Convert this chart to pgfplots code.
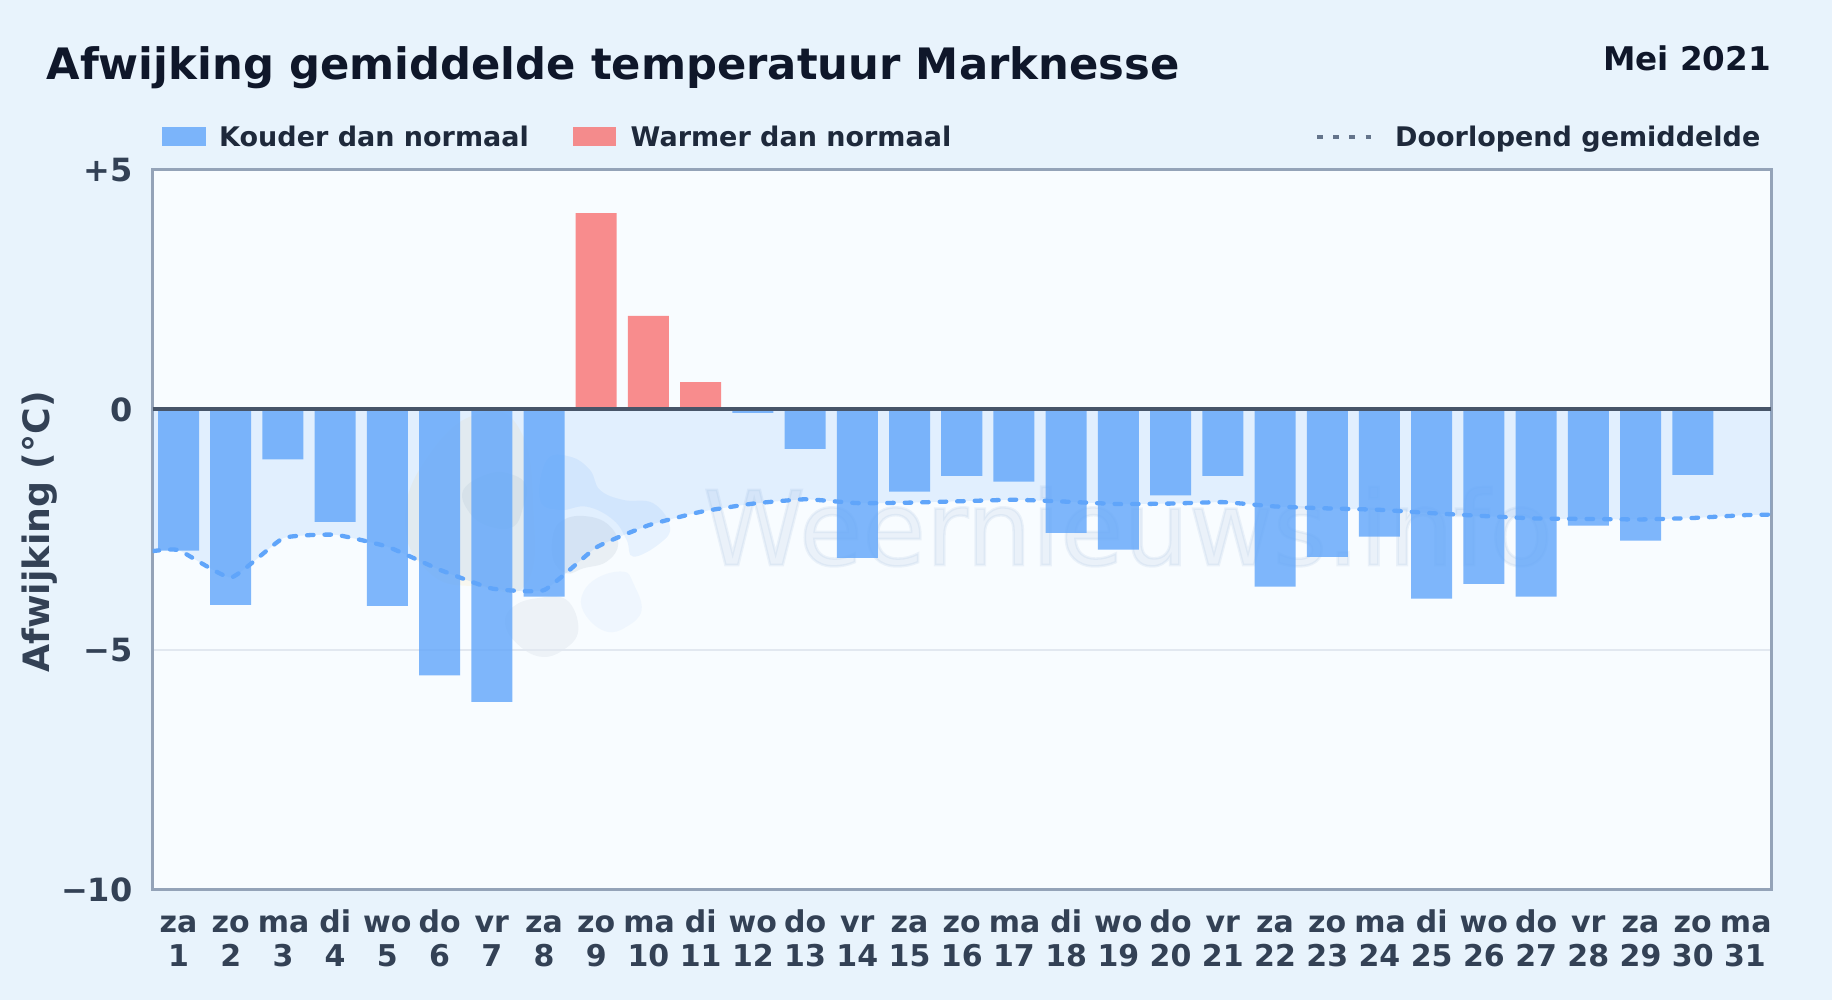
\documentclass[border=0pt]{standalone}
\usepackage{fontspec}
\setmainfont{DejaVu Sans}
\newfontfamily\wmfont[FakeBold=2.5]{DejaVu Sans}
\usepackage{pgfplots}
\pgfplotsset{compat=1.18}
\usepackage{pgfplotstable}
\definecolor{pagebg}{HTML}{E8F3FC}
\definecolor{plotbg}{HTML}{F8FCFF}
\definecolor{cold}{HTML}{60A5FA}
\definecolor{warm}{HTML}{F87171}
\definecolor{titlec}{HTML}{0F172A}
\definecolor{legc}{HTML}{1E293B}
\definecolor{tickc}{HTML}{334155}
\definecolor{borderc}{HTML}{94A3B8}
\definecolor{zeroc}{HTML}{475569}
\definecolor{gridc}{HTML}{E2E8F0}
\definecolor{dotc}{HTML}{64748B}
\definecolor{wmc}{HTML}{7AA0D0}
\definecolor{sunc}{HTML}{FBBF24}
\newcommand\tl[2]{\strut #1\\\strut #2}
\pgfplotstableread{
x y
1 -2.93
2 -4.06
3 -1.03
4 -2.33
5 -4.08
6 -5.53
7 -6.08
8 -3.89
12 -0.06
13 -0.81
14 -3.08
15 -1.70
16 -1.37
17 -1.49
18 -2.56
19 -2.91
20 -1.78
21 -1.37
22 -3.68
23 -3.06
24 -2.64
25 -3.93
26 -3.62
27 -3.89
28 -2.41
29 -2.72
30 -1.35
}\coldtable
\pgfplotstableread{
x y
9 4.10
10 1.96
11 0.58
}\warmtable
\pgfplotstableread{
x y
0.5 -2.94
1 -2.92
2 -3.49
3 -2.67
4 -2.60
5 -2.85
6 -3.33
7 -3.72
8 -3.75
9 -2.86
10 -2.40
11 -2.12
12 -1.95
13 -1.86
14 -1.94
15 -1.93
16 -1.90
17 -1.87
18 -1.91
19 -1.96
20 -1.95
21 -1.92
22 -2.01
23 -2.05
24 -2.08
25 -2.15
26 -2.21
27 -2.26
28 -2.27
29 -2.28
30 -2.25
31 -2.19
31.5 -2.18
}\runtable
\begin{document}
\begin{tikzpicture}[x=1pt,y=1pt]
\useasboundingbox (0,0) rectangle (1832,1000);
\fill[pagebg] (0,0) rectangle (1832,1000);
\fill[plotbg] (152.7,110) rectangle (1771.4,830);
% watermark
\begin{scope}
\clip (152.7,110) rectangle (1771.4,830);
\node[anchor=base west,inner sep=0pt,text=wmc,opacity=0.11] at (703,435) {\fontsize{103}{103}\selectfont\wmfont Weernieuws.info};
\begin{scope}[shift={(380,560)},x=0.3333pt,y=-0.3333pt]
\fill[sunc,opacity=0.07] plot[smooth cycle,tension=0.8] coordinates {(75,240) (150,40) (300,-80) (420,-30) (460,200) (440,430) (300,440) (150,400)};
\fill[cold,opacity=0.11] plot[smooth cycle,tension=0.7] coordinates {(500,60) (570,50) (630,90) (660,150) (730,180) (820,190) (870,260) (840,310) (760,350) (740,300) (700,240) (620,200) (540,210) (480,180)};
\fill[cold,opacity=0.06] plot[smooth cycle,tension=0.7] coordinates {(605,470) (650,415) (730,395) (760,430) (785,510) (740,560) (680,575) (620,530)};
\fill[borderc,opacity=0.14] plot[smooth cycle,tension=0.7] coordinates {(550,240) (610,228) (680,250) (715,310) (680,365) (610,385) (560,400) (520,360) (520,280)};
\fill[borderc,opacity=0.11] plot[smooth cycle,tension=0.7] coordinates {(400,500) (470,475) (560,480) (595,570) (550,630) (480,650) (410,610) (375,550)};
\fill[borderc,opacity=0.13] plot[smooth cycle,tension=0.7] coordinates {(250,150) (330,100) (400,105) (440,140) (430,200) (400,260) (330,260) (270,220)};
\end{scope}
\end{scope}
% titles
\node[anchor=base west,inner sep=0pt,text=titlec] at (46.3,920) {\fontsize{43.3}{44}\selectfont\bfseries Afwijking gemiddelde temperatuur Marknesse};
\node[anchor=base east,inner sep=0pt,text=titlec] at (1771,929) {\fontsize{32.6}{33}\selectfont\bfseries Mei 2021};
% legend
\fill[cold,opacity=0.8] (162,854) rectangle (206,873);
\node[anchor=base west,inner sep=0pt,text=legc] at (219,853.5) {\fontsize{27}{28}\selectfont\bfseries Kouder dan normaal};
\fill[warm,opacity=0.8] (573,854) rectangle (616,873);
\node[anchor=base west,inner sep=0pt,text=legc] at (630.5,853.5) {\fontsize{27}{28}\selectfont\bfseries Warmer dan normaal};
\draw[dotc,line width=4.5pt,dash pattern=on 5.6pt off 10.6pt] (1317,863) -- (1375,863);
\node[anchor=base west,inner sep=0pt,text=legc] at (1395,853.5) {\fontsize{27}{28}\selectfont\bfseries Doorlopend gemiddelde};
\begin{axis}[
  at={(152.7pt,110pt)}, anchor=south west,
  scale only axis, width=1618.7pt, height=720pt,
  xmin=0.5, xmax=31.5, ymin=-10, ymax=5,
  axis line style={borderc,line width=3pt},
  ymajorgrids, grid style={gridc,line width=2pt},
  xtick={1,...,31},
  xticklabels={\tl{za}{1},\tl{zo}{2},\tl{ma}{3},\tl{di}{4},\tl{wo}{5},\tl{do}{6},\tl{vr}{7},\tl{za}{8},\tl{zo}{9},\tl{ma}{10},\tl{di}{11},\tl{wo}{12},\tl{do}{13},\tl{vr}{14},\tl{za}{15},\tl{zo}{16},\tl{ma}{17},\tl{di}{18},\tl{wo}{19},\tl{do}{20},\tl{vr}{21},\tl{za}{22},\tl{zo}{23},\tl{ma}{24},\tl{di}{25},\tl{wo}{26},\tl{do}{27},\tl{vr}{28},\tl{za}{29},\tl{zo}{30},\tl{ma}{31}},
  ytick={-10,-5,0,5},
  yticklabels={−10,−5,0,+5},
  tick style={draw=none},
  major tick length=0pt,
  xticklabel style={align=center,text=tickc,font=\fontsize{30}{33.5}\selectfont\bfseries,inner sep=0pt,yshift=-19pt,xshift=-0.3pt,text width=50pt},
  yticklabel style={text=tickc,font=\fontsize{32}{33}\selectfont\bfseries,inner sep=0pt,xshift=-20pt},
  ylabel={Afwijking (°C)},
  every axis y label/.style={at={(axis description cs:-0.0696,0.4975)},rotate=90,anchor=center,text=tickc,font=\fontsize{36.3}{37}\selectfont\bfseries},
  clip=true,
]
\addplot[draw=none,fill=cold,fill opacity=0.15,smooth,tension=0.25] table[x=x,y=y]{\runtable} \closedcycle;
\addplot[ybar,bar width=41pt,bar shift=-0.3pt,draw=none,fill=cold,fill opacity=0.8] table[x=x,y=y]{\coldtable};
\addplot[ybar,bar width=41pt,bar shift=-0.3pt,draw=none,fill=warm,fill opacity=0.8] table[x=x,y=y]{\warmtable};
\addplot[cold,line width=4.3pt,smooth,tension=0.25,line cap=round,dash pattern=on 6.5pt off 11pt] table[x=x,y=y]{\runtable};
\addplot[zeroc,line width=3.7pt] coordinates {(0.5,0.02) (31.5,0.02)};
\end{axis}
\end{tikzpicture}
\end{document}
